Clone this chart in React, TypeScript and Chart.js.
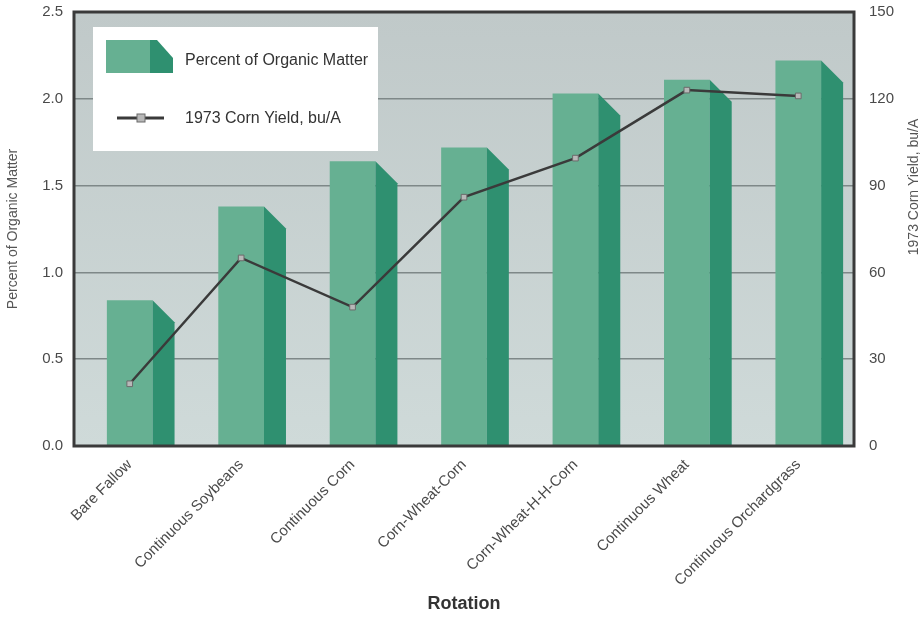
import React, { useEffect, useRef } from "react";
import { Chart, registerables } from "chart.js";

Chart.register(...registerables);

const categories = [
  "Bare Fallow",
  "Continuous Soybeans",
  "Continuous Corn",
  "Corn-Wheat-Corn",
  "Corn-Wheat-H-H-Corn",
  "Continuous Wheat",
  "Continuous Orchardgrass",
];
const organicMatter = [0.84, 1.38, 1.64, 1.72, 2.03, 2.11, 2.22];
const cornYield = [21.5, 65, 48, 86, 99.5, 123, 121];
const leftTicks = [0, 0.5, 1.0, 1.5, 2.0, 2.5];
const rightTicks = [0, 30, 60, 90, 120, 150];

const barLabel = "Percent of Organic Matter";
const lineLabel = "1973 Corn Yield, bu/A";
const leftTitle = "Percent of Organic Matter";
const rightTitle = "1973 Corn Yield, bu/A";
const xTitle = "Rotation";

const FRONT = "#66b092";
const SIDE = "#2f9070";
const FONT = "'Liberation Sans', Arial, Helvetica, sans-serif";
const DEPTH = 22;

const decorPlugin = {
  id: "decor",
  beforeDraw(chart: any) {
    const { ctx, chartArea: a } = chart;
    ctx.save();
    const g = ctx.createLinearGradient(0, a.top, 0, a.bottom);
    g.addColorStop(0, "#c0c9c9");
    g.addColorStop(1, "#cfdad9");
    ctx.fillStyle = g;
    ctx.fillRect(a.left, a.top, a.right - a.left, a.bottom - a.top);
    ctx.restore();
  },
  afterDatasetDraw(chart: any, args: any) {
    const meta = chart.getDatasetMeta(args.index);
    if (meta.type !== "bar") return;
    const { ctx } = chart;
    ctx.save();
    meta.data.forEach((el: any) => {
      const p = el.getProps(["x", "y", "base", "width"], true);
      const r = p.x + p.width / 2;
      ctx.beginPath();
      ctx.moveTo(r, p.y);
      ctx.lineTo(r + DEPTH, p.y + DEPTH);
      ctx.lineTo(r + DEPTH, p.base);
      ctx.lineTo(r, p.base);
      ctx.closePath();
      ctx.fillStyle = SIDE;
      ctx.fill();
    });
    ctx.restore();
  },
  afterDraw(chart: any) {
    const { ctx, chartArea: a } = chart;
    ctx.save();
    // plot border
    ctx.strokeStyle = "#3a3a3a";
    ctx.lineWidth = 3;
    ctx.strokeRect(a.left, a.top, a.right - a.left, a.bottom - a.top);

    // legend box
    const lx = 93, ly = 27, lw = 285, lh = 124;
    ctx.fillStyle = "#ffffff";
    ctx.fillRect(lx, ly, lw, lh);
    // bar icon
    ctx.fillStyle = FRONT;
    ctx.fillRect(106, 40, 44, 33);
    ctx.fillStyle = SIDE;
    ctx.beginPath();
    ctx.moveTo(150, 40);
    ctx.lineTo(157, 40);
    ctx.lineTo(173, 58);
    ctx.lineTo(173, 73);
    ctx.lineTo(150, 73);
    ctx.closePath();
    ctx.fill();
    // line icon
    ctx.strokeStyle = "#3a3a3a";
    ctx.lineWidth = 3;
    ctx.beginPath();
    ctx.moveTo(117, 118);
    ctx.lineTo(164, 118);
    ctx.stroke();
    ctx.fillStyle = "#b8b8b8";
    ctx.strokeStyle = "#6a6a6a";
    ctx.lineWidth = 1;
    ctx.fillRect(137, 114, 8, 8);
    ctx.strokeRect(137, 114, 8, 8);
    // legend text
    ctx.fillStyle = "#333333";
    ctx.font = `16px ${FONT}`;
    ctx.textBaseline = "middle";
    ctx.textAlign = "left";
    ctx.fillText(barLabel, 185, 61);
    ctx.fillText(lineLabel, 185, 119);

    // right axis title (reads bottom-to-top)
    ctx.translate(914, 187);
    ctx.rotate(-Math.PI / 2);
    ctx.textAlign = "center";
    ctx.fillStyle = "#555555";
    ctx.font = `14px ${FONT}`;
    ctx.fillText(rightTitle, 0, 0);
    ctx.restore();
  },
};

export default function App() {
  const ref = useRef<HTMLCanvasElement | null>(null);

  useEffect(() => {
    if (!ref.current) return;
    const chart = new Chart(ref.current, {
      type: "bar",
      data: {
        labels: categories,
        datasets: [
          {
            type: "line",
            label: lineLabel,
            data: cornYield,
            yAxisID: "y1",
            borderColor: "#3a3a3a",
            borderWidth: 2.5,
            pointStyle: "rect",
            pointRadius: 4,
            pointBackgroundColor: "#b8b8b8",
            pointBorderColor: "#6a6a6a",
            pointBorderWidth: 1,
            tension: 0,
            order: 0,
          } as any,
          {
            type: "bar",
            label: barLabel,
            data: organicMatter,
            yAxisID: "y",
            backgroundColor: FRONT,
            borderWidth: 0,
            barPercentage: 0.41,
            categoryPercentage: 1,
            order: 1,
          } as any,
        ],
      },
      options: {
        animation: false,
        responsive: true,
        maintainAspectRatio: false,
        layout: { padding: { top: 12, left: 0, right: 0, bottom: 0 } },
        plugins: {
          legend: { display: false },
          tooltip: { enabled: false },
          title: { display: false },
        },
        scales: {
          x: {
            grid: { display: false, drawTicks: false },
            border: { display: false },
            ticks: {
              minRotation: 45,
              maxRotation: 45,
              padding: 10,
              color: "#4a4a4a",
              font: { family: FONT, size: 15 },
            },
            title: {
              display: true,
              text: xTitle,
              color: "#333333",
              font: { family: FONT, size: 18, weight: "bold" },
              padding: { top: 0, bottom: 2 },
            },
            afterFit(scale: any) {
              scale.height = 171;
            },
          },
          y: {
            position: "left",
            min: 0,
            max: 2.5,
            afterBuildTicks(scale: any) {
              scale.ticks = leftTicks.map((v) => ({ value: v }));
            },
            grid: {
              color: "#7e8888",
              lineWidth: 1.5,
              drawTicks: true,
              tickLength: 11,
              tickColor: "rgba(0,0,0,0)",
            },
            border: { display: false },
            ticks: {
              padding: 0,
              color: "#4a4a4a",
              font: { family: FONT, size: 15 },
              callback: (v: any) => Number(v).toFixed(1),
            },
            title: {
              display: true,
              text: leftTitle,
              color: "#555555",
              font: { family: FONT, size: 14 },
              padding: { top: 5, bottom: 0 },
            },
            afterFit(scale: any) {
              scale.width = 74;
            },
          },
          y1: {
            position: "right",
            min: 0,
            max: 150,
            afterBuildTicks(scale: any) {
              scale.ticks = rightTicks.map((v) => ({ value: v }));
            },
            grid: {
              display: true,
              drawOnChartArea: false,
              drawTicks: true,
              tickLength: 15,
              tickColor: "rgba(0,0,0,0)",
            },
            border: { display: false },
            ticks: {
              padding: 0,
              color: "#4a4a4a",
              font: { family: FONT, size: 15 },
            },
            afterFit(scale: any) {
              scale.width = 70;
            },
          },
        },
      },
      plugins: [decorPlugin],
    });
    return () => chart.destroy();
  }, []);

  return (
    <div
      style={{
        position: "fixed",
        left: 0,
        top: 0,
        width: 924,
        height: 617,
        background: "#ffffff",
      }}
    >
      <canvas ref={ref} />
    </div>
  );
}
